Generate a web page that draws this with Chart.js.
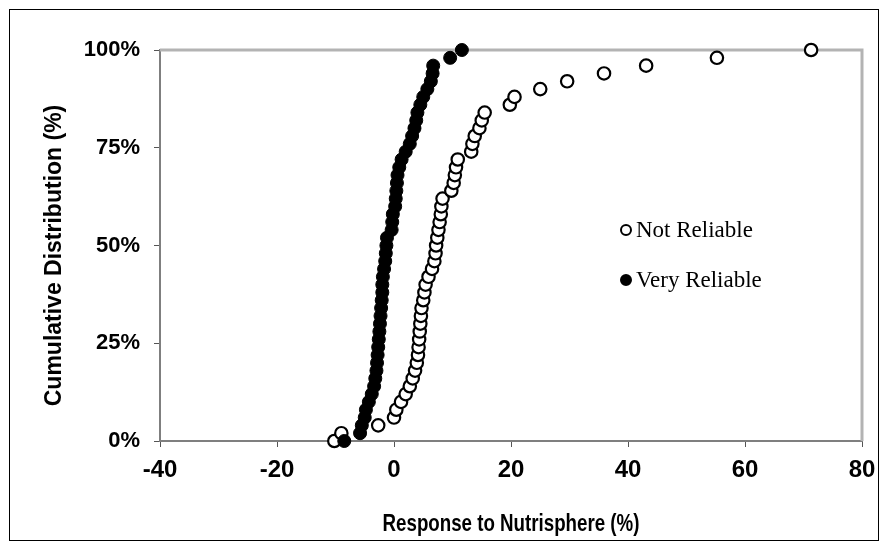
<!DOCTYPE html>
<html>
<head>
<meta charset="utf-8">
<script src="https://cdn.jsdelivr.net/npm/chart.js@4.4.0/dist/chart.umd.min.js"></script>
<style>
  body { margin: 0; background: #fff; }
  #wrap { width: 888px; height: 551px; }
</style>
</head>
<body>
<div id="wrap"><canvas id="cdfChart" width="888" height="551"></canvas></div>
<script>
// cumulative levels (%) shared by both series
const LEVELS = [0, 2, 4, 6, 8, 10, 12, 14, 16, 18, 20, 22, 24, 26, 28, 30, 32, 34, 36, 38, 40,
    42, 44, 46, 48, 50, 52, 54, 56, 58, 60, 62, 64, 66, 68, 70, 72, 74, 76, 78, 80,
    82, 84, 86, 88, 90, 92, 94, 96, 98, 100];

// response values (%)
const NOT_RELIABLE = [-10.2, -9.0, -2.7, 0.0, 0.4, 1.2, 2.0, 2.7, 3.2, 3.6, 3.9, 4.1, 4.2, 4.3, 4.4, 4.5,
    4.6, 4.7, 5.0, 5.2, 5.4, 5.9, 6.5, 6.9, 7.1, 7.2, 7.4, 7.6, 7.8, 8.0, 8.1, 8.3, 9.8, 10.2,
    10.4, 10.6, 10.9, 13.2, 13.4, 13.8, 14.6, 15.0, 15.5, 19.8, 20.6, 25.0, 29.6, 35.9, 43.1, 55.2, 71.3];
const VERY_RELIABLE = [-8.5, -5.8, -5.5, -5.0, -4.8, -4.3, -3.8, -3.4, -3.2, -3.0, -2.9, -2.8, -2.7, -2.6,
    -2.5, -2.4, -2.3, -2.2, -2.1, -2.0, -2.0, -1.9, -1.7, -1.5, -1.4, -1.3, -1.2, -0.4, -0.3, -0.2,
    0.2, 0.3, 0.4, 0.5, 0.6, 0.9, 1.3, 2.0, 2.7, 3.1, 3.5, 3.8, 4.0, 4.5, 5.0, 5.7, 6.3, 6.6, 6.7, 9.6, 11.6];

const X_TICKS = [-40, -20, 0, 20, 40, 60, 80];
const Y_TICKS = [0, 25, 50, 75, 100];
const X_TITLE = 'Response to Nutrisphere (%)';
const Y_TITLE = 'Cumulative Distribution (%)';

const toPoints = (xs) => xs.map((x, i) => ({ x: x, y: LEVELS[i] }));

const SANS = 'Liberation Sans, Arial, sans-serif';
const Y_FONT = { family: SANS, weight: 'bold', size: 22 };
const X_FONT = { family: SANS, weight: 'bold', size: 24 };

// frame round the picture + light gray top/right border of the plot
const framePlugin = {
    id: 'frame',
    beforeDatasetsDraw(chart) {
        const { ctx, chartArea: a } = chart;
        ctx.save();
        ctx.strokeStyle = '#b3b3b3';
        ctx.lineWidth = 3;
        ctx.beginPath();
        ctx.moveTo(a.left, a.top);
        ctx.lineTo(a.right, a.top);
        ctx.lineTo(a.right, a.bottom);
        ctx.stroke();
        ctx.restore();
    },
    afterDraw(chart) {
        const ctx = chart.ctx;
        ctx.save();
        ctx.strokeStyle = '#000';
        ctx.lineWidth = 1;
        ctx.strokeRect(9.5, 9.5, 869, 531);
        ctx.restore();
    }
};

// axis titles: x title is a narrow face in the original, so squeeze it
const axisTitles = {
    id: 'axisTitles',
    afterDraw(chart) {
        const { ctx, chartArea: a } = chart;
        ctx.save();
        ctx.fillStyle = '#000';
        ctx.textAlign = 'center';
        ctx.textBaseline = 'middle';
        ctx.font = 'bold 24px ' + SANS;
        ctx.save();
        ctx.translate((a.left + a.right) / 2, a.bottom + 83);
        ctx.scale(0.78, 1);
        ctx.fillText(X_TITLE, 0, 0);
        ctx.restore();
        ctx.font = 'bold 23px ' + SANS;
        ctx.translate(55, (a.top + a.bottom) / 2 + 10);
        ctx.rotate(-Math.PI / 2);
        ctx.fillText(Y_TITLE, 0, 0);
        ctx.restore();
    }
};

// legend drawn inside the plot, from the dataset styles
const insideLegend = {
    id: 'insideLegend',
    afterDatasetsDraw(chart) {
        const { ctx } = chart;
        const spots = [{ x: 626, y: 230 }, { x: 626, y: 280 }];
        ctx.save();
        ctx.font = '23px "Liberation Serif", "DejaVu Serif", serif';
        ctx.textBaseline = 'middle';
        chart.data.datasets.forEach((ds) => {
            const p = spots[ds.legendSlot];
            ctx.beginPath();
            ctx.arc(p.x, p.y, 5, 0, Math.PI * 2);
            ctx.lineWidth = 2;
            ctx.strokeStyle = '#000';
            ctx.fillStyle = ds.backgroundColor;
            ctx.fill();
            ctx.stroke();
            ctx.fillStyle = '#000';
            ctx.fillText(ds.label, p.x + 10, p.y + 1);
        });
        ctx.restore();
    }
};

new Chart(document.getElementById('cdfChart'), {
    type: 'scatter',
    data: {
        datasets: [
            {
                label: 'Very Reliable',
                data: toPoints(VERY_RELIABLE),
                backgroundColor: '#000',
                borderColor: '#000',
                borderWidth: 1,
                pointRadius: 6.5,
                order: 0,
                legendSlot: 1,
                clip: false
            },
            {
                label: 'Not Reliable',
                data: toPoints(NOT_RELIABLE),
                backgroundColor: '#fff',
                borderColor: '#000',
                borderWidth: 2.2,
                pointRadius: 6.2,
                order: 1,
                legendSlot: 0,
                clip: false
            }
        ]
    },
    options: {
        responsive: false,
        animation: false,
        layout: { padding: { left: 42, top: 50, right: 26, bottom: 0 } },
        plugins: {
            legend: { display: false },
            tooltip: { enabled: false }
        },
        scales: {
            x: {
                type: 'linear',
                min: -40,
                max: 80,
                afterFit: (s) => { s.height = 110; },
                afterBuildTicks: (s) => { s.ticks = X_TICKS.map(v => ({ value: v })); },
                border: { color: '#7f7f7f', width: 2 },
                grid: { drawOnChartArea: false, drawTicks: true, tickLength: 6, color: '#555' },
                ticks: { color: '#000', font: X_FONT, padding: 9, maxRotation: 0 }
            },
            y: {
                type: 'linear',
                min: 0,
                max: 100,
                afterFit: (s) => { s.width = 118; },
                afterBuildTicks: (s) => { s.ticks = Y_TICKS.map(v => ({ value: v })); },
                border: { color: '#7f7f7f', width: 2 },
                grid: { drawOnChartArea: false, drawTicks: true, tickLength: 6, color: '#555' },
                ticks: { color: '#000', font: Y_FONT, padding: 14, callback: (v) => v + '%' }
            }
        }
    },
    plugins: [framePlugin, axisTitles, insideLegend]
});
</script>
</body>
</html>
